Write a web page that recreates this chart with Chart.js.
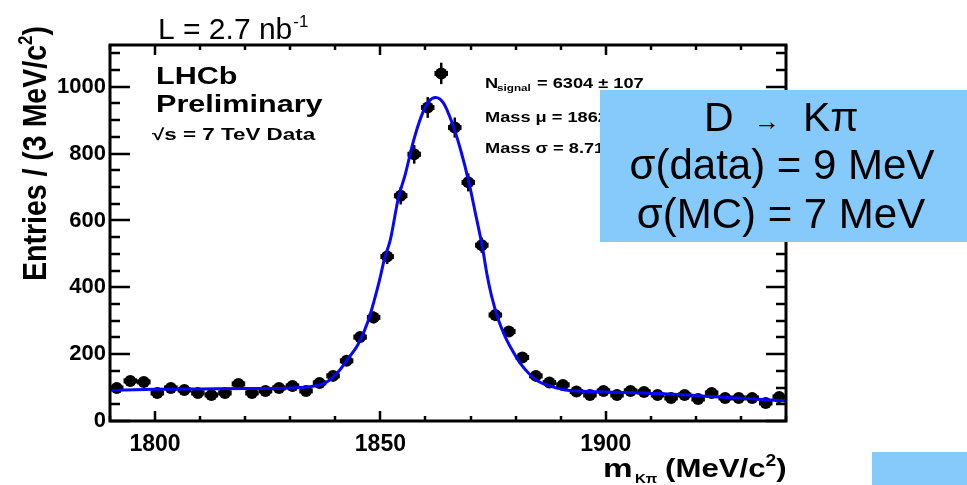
<!DOCTYPE html>
<html><head><meta charset="utf-8">
<script src="https://cdn.jsdelivr.net/npm/chart.js@4.4.1/dist/chart.umd.min.js"></script>
<style>html,body{margin:0;padding:0;background:#fff;}</style>
</head><body>
<canvas id="c" width="967" height="485"></canvas>
<script>
// ---- data ----
const massBins = [1791.5,1794.5,1797.5,1800.5,1803.5,1806.5,1809.5,1812.5,1815.5,1818.5,
  1821.5,1824.5,1827.5,1830.5,1833.5,1836.5,1839.5,1842.5,1845.5,1848.5,
  1851.5,1854.5,1857.5,1860.5,1863.5,1866.5,1869.5,1872.5,1875.5,1878.5,
  1881.5,1884.5,1887.5,1890.5,1893.5,1896.5,1899.5,1902.5,1905.5,1908.5,
  1911.5,1914.5,1917.5,1920.5,1923.5,1926.5,1929.5,1932.5,1935.5,1938.5];
const entries = [99,120,117,84,99,93,84,78,84,111,
  84,90,99,105,90,114,135,180,251,310,
  492,674,798,938,1040,878,714,526,317,268,
  190,135,115,108,88,78,90,78,90,87,
  78,69,78,66,84,69,69,69,54,72];
const entryErrors = [10,11,11,9,10,10,9,9,9,11,
  9,9,10,10,9,11,12,13,16,18,
  22,26,28,31,32,30,27,23,18,16,
  14,12,11,10,9,9,9,9,9,9,
  9,8,9,8,9,8,8,8,7,8];
const fitMass = [1790,1800,1810,1820,1830,1835,1838,1840.5,1843,1845,1847.3,1849.6,1851,1852.2,
  1854,1855.5,1857.3,1859.2,1860.7,1862.3,1864,1865.8,1867.7,1869.6,1871,1872.7,1873.6,1874.7,
  1876.2,1877.7,1879.2,1881,1882.9,1885.1,1888.1,1891,1895,1900,1912,1926,1940];
const fitEntries = [92,95,96,97,99,104,116,145,190,228,300,410,490,542,
  668,737,836,916,956,968,951,896,816,716,627,515,442,372,
  302,252,213,173,143,118,103,93,89,87,82,71,60];
const xTickLabels = [1800,1850,1900];
const yTickLabels = [0,200,400,600,800,1000];
const xMin = 1790, xMax = 1940, yMin = 0, yMax = 1125;

const FONT = "'Liberation Sans', Arial, sans-serif";

function seg(ctx, s, x, y, size, bold, sx){
  ctx.save();
  ctx.translate(x, y);
  ctx.scale(sx, 1);
  ctx.font = (bold ? 'bold ' : '') + size + 'px ' + FONT;
  ctx.textAlign = 'left';
  ctx.textBaseline = 'alphabetic';
  ctx.fillText(s, 0, 0);
  const w = ctx.measureText(s).width * sx;
  ctx.restore();
  return x + w;
}

const decor = {
  id: 'decor',
  beforeDatasetsDraw(chart){
    const ctx = chart.ctx, xs = chart.scales.x, ys = chart.scales.y, a = chart.chartArea;
    ctx.save();
    ctx.beginPath(); ctx.rect(a.left, a.top, a.right - a.left, a.bottom - a.top); ctx.clip();
    ctx.strokeStyle = '#000';
    for (let i = 0; i < massBins.length; i++){
      const px = xs.getPixelForValue(massBins[i]);
      const py = ys.getPixelForValue(entries[i]);
      ctx.lineWidth = 2.5;
      ctx.beginPath();
      ctx.moveTo(px, ys.getPixelForValue(entries[i] + entryErrors[i]));
      ctx.lineTo(px, ys.getPixelForValue(entries[i] - entryErrors[i]));
      ctx.stroke();
      ctx.lineWidth = 5;
      ctx.beginPath();
      ctx.moveTo(xs.getPixelForValue(massBins[i] - 1.5), py);
      ctx.lineTo(xs.getPixelForValue(massBins[i] + 1.5), py);
      ctx.stroke();
    }
    ctx.restore();
  },
  afterDatasetsDraw(chart){
    const ctx = chart.ctx, xs = chart.scales.x, ys = chart.scales.y, a = chart.chartArea;
    ctx.save();
    ctx.strokeStyle = '#000';
    ctx.lineWidth = 3;
    ctx.strokeRect(a.left, a.top, a.right - a.left, a.bottom - a.top);
    ctx.lineWidth = 2.5;
    ctx.beginPath();
    for (let v = xMin; v <= xMax; v += 10){
      const px = Math.round(xs.getPixelForValue(v));
      const major = (v % 50 === 0);
      const L = major ? 10 : 5;
      ctx.moveTo(px, a.bottom); ctx.lineTo(px, a.bottom - L);
      ctx.moveTo(px, a.top); ctx.lineTo(px, a.top + L);
    }
    for (let v = yMin; v <= yMax; v += 50){
      const py = Math.round(ys.getPixelForValue(v));
      const major = (v % 200 === 0);
      const L = major ? 20 : 10;
      ctx.moveTo(a.left, py); ctx.lineTo(a.left + L, py);
      ctx.moveTo(a.right, py); ctx.lineTo(a.right - L, py);
    }
    ctx.stroke();
    ctx.restore();
  },
  afterDraw(chart){
    const ctx = chart.ctx;
    ctx.save();
    ctx.fillStyle = '#000';
    // luminosity
    let x = seg(ctx, 'L = 2.7 nb', 158, 39, 30, false, 1);
    seg(ctx, '-1', x + 1, 27, 17, false, 1);
    // LHCb labels
    seg(ctx, 'LHCb', 156, 84, 23, true, 1.33);
    seg(ctx, 'Preliminary', 156, 112, 23, true, 1.33);
    seg(ctx, '\u221As = 7 TeV Data', 152, 140, 16, true, 1.4);
    // fit stats
    seg(ctx, 'N', 485, 88, 14, true, 1.3);
    seg(ctx, 'signal', 497, 91, 9, true, 1.3);
    seg(ctx, ' = 6304 \u00B1 107', 532, 88, 14, true, 1.3);
    seg(ctx, 'Mass \u03BC = 1862', 485, 122, 14, true, 1.3);
    seg(ctx, 'Mass \u03C3 = 8.71', 485, 153, 14, true, 1.3);
    // y title (rotated)
    ctx.save();
    ctx.translate(46, 281);
    ctx.rotate(-Math.PI / 2);
    ctx.scale(1, 1.15);
    x = seg(ctx, 'Entries / (3 MeV/c', 0, 0, 28.5, true, 1);
    x = seg(ctx, '2', x, -12, 17, true, 1);
    seg(ctx, ')', x, 0, 28.5, true, 1);
    ctx.restore();
    // x title
    seg(ctx, 'm', 603, 477, 26, true, 1.28);
    seg(ctx, 'K\u03C0', 635, 483, 12, true, 1.25);
    x = seg(ctx, '(MeV/c', 665, 477, 26, true, 1.2);
    x = seg(ctx, '2', x, 466, 16, true, 1.2);
    seg(ctx, ')', x, 477, 26, true, 1.2);
    // annotation boxes
    ctx.fillStyle = 'rgb(134,202,251)';
    ctx.fillRect(600, 90, 367, 152);
    ctx.fillRect(872, 452, 95, 33);
    ctx.fillStyle = '#000';
    seg(ctx, 'D', 704, 131, 41, false, 1);
    seg(ctx, '\u2192', 754, 130, 26, false, 1);
    seg(ctx, 'K\u03C0', 803, 131, 41, false, 1);
    ctx.font = '42px ' + FONT;
    ctx.textAlign = 'center';
    ctx.textBaseline = 'alphabetic';
    ctx.fillText('\u03C3(data) = 9 MeV', 782, 179);
    ctx.fillText('\u03C3(MC) = 7 MeV', 781, 228);
    ctx.restore();
  }
};

new Chart(document.getElementById('c'), {
  type: 'scatter',
  data: {
    datasets: [
      {
        label: 'fit',
        data: fitMass.map((m, i) => ({x: m, y: fitEntries[i]})),
        showLine: true,
        borderColor: 'rgb(8,8,245)',
        borderWidth: 3,
        pointRadius: 0,
        cubicInterpolationMode: 'monotone',
        order: 0
      },
      {
        label: 'data',
        data: massBins.map((m, i) => ({x: m, y: entries[i]})),
        showLine: false,
        pointRadius: 6,
        pointBackgroundColor: '#000',
        pointBorderColor: '#000',
        pointBorderWidth: 0,
        order: 1
      }
    ]
  },
  options: {
    responsive: false,
    animation: false,
    devicePixelRatio: 1,
    layout: { padding: { top: 45, right: 181, left: 0, bottom: 0 } },
    plugins: { legend: { display: false }, tooltip: { enabled: false }, title: { display: false } },
    scales: {
      x: {
        type: 'linear', min: xMin, max: xMax,
        afterFit(s){ s.height = 64; },
        afterBuildTicks(s){ s.ticks = xTickLabels.map(v => ({value: v})); },
        grid: { display: false, drawTicks: false },
        border: { display: false },
        ticks: { font: { family: FONT, size: 23, weight: 'bold' }, color: '#000', padding: 10, maxRotation: 0, autoSkip: false,
                 callback: v => String(v) }
      },
      y: {
        type: 'linear', min: yMin, max: yMax,
        afterFit(s){ s.width = 110; },
        afterBuildTicks(s){ s.ticks = yTickLabels.map(v => ({value: v})); },
        grid: { display: false, drawTicks: false },
        border: { display: false },
        ticks: { font: { family: FONT, size: 22, weight: 'bold' }, color: '#000', padding: 4, autoSkip: false,
                 callback: v => String(v) }
      }
    }
  },
  plugins: [decor]
});
</script>
</body></html>
